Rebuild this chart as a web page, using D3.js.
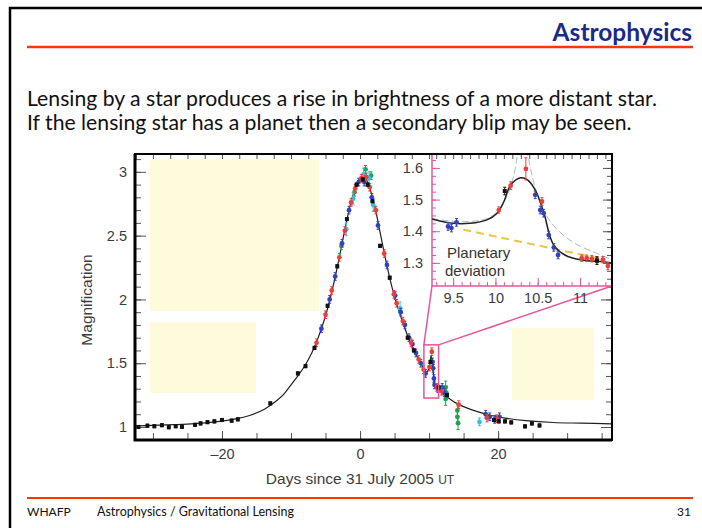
<!DOCTYPE html>
<html>
<head>
<meta charset="utf-8">
<script src="https://cdn.jsdelivr.net/npm/d3@7"></script>
<style>
body { margin: 0; background: #fff; }
svg { display: block; }
</style>
</head>
<body>
<svg id="slide" width="702" height="528"></svg>
<script>
// light curve model (days, magnification)
const modelT = [-32.6,-30,-27,-24,-21,-18,-16,-14,-13,-12,-11,-10,-9,-8,-7,-6,-5,-4,-3,-2,-1,0,0.5,1,2,3,4,5,6,7,8,9,9.6,10.0,10.3,10.6,10.9,11.3,12,13,14,15,17,19,21,24,28,32,36.5];
const modelA = [1.008,1.012,1.018,1.026,1.04,1.063,1.09,1.135,1.17,1.21,1.26,1.33,1.40,1.48,1.58,1.71,1.87,2.08,2.33,2.6,2.82,2.94,2.96,2.93,2.76,2.5,2.24,2.02,1.85,1.7,1.58,1.48,1.43,1.46,1.56,1.43,1.32,1.30,1.26,1.22,1.185,1.16,1.12,1.09,1.07,1.05,1.035,1.03,1.025];

// observations by telescope colour
const blackT = [-32.1,-30.8,-29.8,-28.7,-27.7,-26.7,-25.8,-23.9,-23.1,-22.1,-21.1,-20.0,-18.6,-17.7,-13.0,-9.0,-7.9,-6.6,-4.7,-3.3,-1.9,-0.5,0.4,1.1,1.8,2.9,4.3,6.9,7.8,10.2,11.4,12.6,19.4,20.1,21.0,21.9,23.9,24.9,26.0];
const blackA = [1.00,1.01,1.006,1.014,0.998,1.006,1.001,1.017,1.028,1.038,1.044,1.055,1.05,1.06,1.185,1.42,1.477,1.62,1.95,2.26,2.63,2.90,2.94,2.90,2.77,2.42,2.17,1.70,1.60,1.51,1.31,1.25,1.055,1.044,1.044,1.036,1.005,1.028,1.012];
const redT = [-6.3,-5.0,-4.1,-3.0,-2.2,-1.3,-0.7,0.2,0.9,1.4,2.3,3.5,4.9,5.3,6.2,7.4,8.5,9.2,10.05,10.4,11.1,11.8,14.3,18.4,19.8];
const redA = [1.66,1.88,2.07,2.33,2.54,2.76,2.87,2.95,2.96,2.88,2.70,2.36,2.04,1.97,1.83,1.66,1.53,1.45,1.47,1.59,1.31,1.28,1.175,1.07,1.065];
const blueT = [-5.6,-4.4,-3.6,-2.6,-1.6,-0.2,0.6,1.7,2.6,3.9,5.1,5.9,6.5,7.1,7.6,8.1,8.8,9.5,10.5,10.6,10.7,10.8,11.3,11.9,12.2,18.2,18.8,19.5,20.2];
const blueA = [1.77,2.0,2.18,2.44,2.70,2.92,2.92,2.80,2.58,2.27,2.03,1.90,1.80,1.70,1.65,1.58,1.50,1.42,1.51,1.46,1.38,1.33,1.30,1.31,1.27,1.10,1.08,1.06,1.08];
const cyanT = [-2.0,-1.0,0.5,1.3,1.9,5.8,17.3];
const cyanA = [2.55,2.79,2.98,2.95,2.74,1.93,1.04];
const greenT = [-2.7,-0.8,0.8,1.6,12.4,12.5,12.4,14.1,14.1,14.2];
const greenA = [2.42,2.84,3.02,2.97,1.31,1.27,1.22,1.13,1.08,1.03];

// inset: planetary deviation
const insetT = [9.25,9.5,9.7,9.9,10.02,10.1,10.18,10.3,10.38,10.48,10.58,10.64,10.7,10.82,11.02,11.26,11.378];
const insetA = [1.439,1.425,1.425,1.436,1.457,1.494,1.546,1.569,1.562,1.525,1.451,1.388,1.352,1.325,1.309,1.304,1.30];
const singleT = [9.25,9.6,9.9,10.05,10.15,10.22,10.27,null,10.37,10.43,10.5,10.6,10.75,10.95,11.2,11.378];
const singleA = [1.44,1.43,1.44,1.47,1.52,1.58,1.66,null,1.66,1.58,1.51,1.45,1.40,1.36,1.33,1.31];
const noPlanetT = [9.62,11.3];
const noPlanetA = [1.405,1.31];
const inBlueT = [9.44,9.48,9.54,10.47,10.53,10.57,10.63,10.69,10.74];
const inBlueA = [1.415,1.41,1.428,1.515,1.467,1.457,1.388,1.349,1.325];
const inRedT = [10.04,10.18,10.36,10.55,11.02,11.08,11.14,11.20,11.27,11.33];
const inRedA = [1.467,1.544,1.597,1.494,1.315,1.315,1.313,1.31,1.31,1.29];
const inBlackT = [10.11,11.20];
const inBlackA = [1.527,1.307];

const xLabels = [-20, 0, 20];
const yLabels = [1, 1.5, 2, 2.5, 3];
const ixLabels = [9.5, 10, 10.5, 11];
const iyLabels = [1.3, 1.4, 1.5, 1.6];

const pink = '#e6559e';
const svg = d3.select('#slide');

// slide frame and header
svg.append('path').attr('d', 'M10,528V8H702').attr('fill', 'none').attr('stroke', '#000').attr('stroke-width', 2.5);
svg.append('line').attr('x1', 27).attr('x2', 693).attr('y1', 47).attr('y2', 47).attr('stroke', '#f2380f').attr('stroke-width', 2.5);
svg.append('line').attr('x1', 27).attr('x2', 693).attr('y1', 498).attr('y2', 498).attr('stroke', '#f2380f').attr('stroke-width', 2);
svg.append('text').attr('x', 692).attr('y', 41).attr('text-anchor', 'end')
  .style('font', 'bold 24.5px Lato').attr('fill', '#1b2a86').text('Astrophysics');

const body = ['Lensing by a star produces a rise in brightness of a more distant star.',
  'If the lensing star has a planet then a secondary blip may be seen.'];
const bodyText = svg.selectAll('text.body').data(body).join('text').attr('class', 'body')
  .attr('x', 27).attr('y', (d, i) => 106 + i * 24)
  .style('font', '20.5px Lato').attr('fill', '#111').text(d => d);
const k = 630 / bodyText.nodes()[0].getComputedTextLength();
bodyText.each(function() {
  d3.select(this).attr('textLength', this.getComputedTextLength() * k).attr('lengthAdjust', 'spacingAndGlyphs');
});

svg.append('text').attr('x', 27).attr('y', 516).style('font', '12px Lato').attr('fill', '#111').text('WHAFP');
svg.append('text').attr('x', 97).attr('y', 516).style('font', '12.5px Lato').attr('fill', '#111').text('Astrophysics / Gravitational Lensing');
svg.append('text').attr('x', 691).attr('y', 516).attr('text-anchor', 'end').style('font', '12px Lato').attr('fill', '#111').text('31');

// main plot
const x = d3.scaleLinear().domain([-32.6, 36.5]).range([135, 612]);
const y = d3.scaleLinear().domain([0.898, 3.14]).range([440, 154]);
const ix = d3.scaleLinear().domain([9.25, 11.378]).range([432, 612]);
const iy = d3.scaleLinear().domain([1.227, 1.644]).range([286, 154]);

const plot = svg.append('g').style('font-family', '"Liberation Sans", Arial, sans-serif');

// placeholder boxes (days, magnification)
const boxes = [[-30.43, -5.94, 1.91, 3.10], [-30.43, -15.07, 1.267, 1.824], [22.03, 33.91, 1.21, 1.776]];
plot.selectAll('rect.box').data(boxes).join('rect').attr('class', 'box')
  .attr('x', d => x(d[0])).attr('width', d => x(d[1]) - x(d[0]))
  .attr('y', d => y(d[3])).attr('height', d => y(d[2]) - y(d[3]))
  .attr('fill', '#fdfbdb');

const tickStyle = g => {
  g.select('.domain').remove();
  g.selectAll('line').attr('stroke', '#555');
  g.selectAll('text').attr('fill', '#3c3c3c').style('font-size', '14.5px');
};
const fmt = d3.format('');

// minor ticks
plot.append('g').attr('transform', 'translate(0,440)')
  .call(d3.axisBottom(x).tickValues(d3.range(-30, 36, 5)).tickSizeInner(-7).tickSizeOuter(0).tickFormat(''))
  .call(tickStyle);
plot.append('g').attr('transform', 'translate(0,154)')
  .call(d3.axisTop(x).tickValues(d3.range(-32.5, 36, 2.5)).tickSizeInner(-5).tickSizeOuter(0).tickFormat(''))
  .call(tickStyle);
plot.append('g').attr('transform', 'translate(135,0)')
  .call(d3.axisLeft(y).tickValues(d3.range(0.9, 3.15, 0.1)).tickSizeInner(-6).tickSizeOuter(0).tickFormat(''))
  .call(tickStyle);
plot.append('g').attr('transform', 'translate(612,0)')
  .call(d3.axisRight(y).tickValues(d3.range(0.9, 3.15, 0.1)).tickSizeInner(-6).tickSizeOuter(0).tickFormat(''))
  .call(tickStyle);
// labelled ticks
plot.append('g').attr('transform', 'translate(0,440)')
  .call(d3.axisBottom(x).tickValues(xLabels).tickSizeInner(-9).tickSizeOuter(0).tickPadding(9).tickFormat(d => d < 0 ? '\u2013' + (-d) : d))
  .call(tickStyle);
plot.append('g').attr('transform', 'translate(135,0)')
  .call(d3.axisLeft(y).tickValues(yLabels).tickSizeInner(-11).tickSizeOuter(0).tickPadding(8).tickFormat(fmt))
  .call(tickStyle);
plot.append('g').attr('transform', 'translate(612,0)')
  .call(d3.axisRight(y).tickValues(yLabels).tickSizeInner(-11).tickSizeOuter(0).tickFormat(''))
  .call(tickStyle);

// model curve
const model = d3.zip(modelT, modelA);
plot.append('path').datum(model)
  .attr('d', d3.line().x(d => x(d[0])).y(d => y(d[1])).curve(d3.curveCatmullRom))
  .attr('fill', 'none').attr('stroke', '#222').attr('stroke-width', 1.2);

function drawSeries(g, sx, sy, ts, as, err, color, shape) {
  const pts = d3.zip(ts, as, Array.isArray(err) ? err : ts.map(() => err));
  const s = g.append('g');
  s.selectAll('line.eb').data(pts).join('line')
    .attr('x1', d => sx(d[0])).attr('x2', d => sx(d[0]))
    .attr('y1', d => sy(d[1] - d[2])).attr('y2', d => sy(d[1] + d[2]))
    .attr('stroke', color).attr('stroke-width', 1);
  s.selectAll('path.cap').data(pts).join('path')
    .attr('d', d => `M${sx(d[0]) - 1.5},${sy(d[1] - d[2])}h3M${sx(d[0]) - 1.5},${sy(d[1] + d[2])}h3`)
    .attr('stroke', color).attr('stroke-width', 1);
  if (shape === 'square') {
    s.selectAll('rect').data(pts).join('rect')
      .attr('x', d => sx(d[0]) - 2).attr('y', d => sy(d[1]) - 2).attr('width', 4).attr('height', 4).attr('fill', color);
  } else {
    s.selectAll('circle').data(pts).join('circle')
      .attr('cx', d => sx(d[0])).attr('cy', d => sy(d[1])).attr('r', 2.4).attr('fill', color);
  }
}

drawSeries(plot, x, y, greenT, greenA, [0.03,0.03,0.03,0.03,0.05,0.05,0.05,0.05,0.05,0.05], '#1ea34f', 'circle');
drawSeries(plot, x, y, cyanT, cyanA, [0.05,0.05,0.05,0.05,0.05,0.05,0.03], '#2ec3e6', 'circle');
drawSeries(plot, x, y, blueT, blueA, 0.03, '#3442b5', 'circle');
drawSeries(plot, x, y, redT, redA, 0.03, '#e8403c', 'circle');
drawSeries(plot, x, y, blackT, blackA, 0.012, '#111', 'square');

// zoom box and connectors
const [t0, t1] = ix.domain();
const [a0, a1] = iy.domain();
plot.append('rect').attr('x', x(t0)).attr('y', y(a1)).attr('width', x(t1) - x(t0)).attr('height', y(a0) - y(a1))
  .attr('fill', 'none').attr('stroke', pink).attr('stroke-width', 1.5);
plot.append('line').attr('x1', x(t0)).attr('y1', y(a1)).attr('x2', ix(t0)).attr('y2', iy(a0)).attr('stroke', pink).attr('stroke-width', 1.5);
plot.append('line').attr('x1', x(t1)).attr('y1', y(a1)).attr('x2', ix(t1)).attr('y2', iy(a0)).attr('stroke', pink).attr('stroke-width', 1.5);

// inset
const inset = plot.append('g');
inset.append('rect').attr('x', ix(t0)).attr('y', iy(a1)).attr('width', ix(t1) - ix(t0)).attr('height', iy(a0) - iy(a1)).attr('fill', '#fff');
inset.append('clipPath').attr('id', 'inclip').append('rect')
  .attr('x', ix(t0)).attr('y', iy(a1)).attr('width', ix(t1) - ix(t0)).attr('height', iy(a0) - iy(a1));

const pinkStyle = g => { g.select('.domain').remove(); g.selectAll('line').attr('stroke', pink); g.selectAll('text').attr('fill', '#3c3c3c').style('font-size', '14.5px'); };
inset.append('g').attr('transform', `translate(0,${iy(a0)})`)
  .call(d3.axisBottom(ix).tickValues(d3.range(9.3, 11.35, 0.1)).tickSizeInner(-4).tickSizeOuter(0).tickFormat(''))
  .call(pinkStyle);
inset.append('g').attr('transform', `translate(0,${iy(a0)})`)
  .call(d3.axisBottom(ix).tickValues(ixLabels).tickSizeInner(-8).tickSizeOuter(0).tickPadding(7).tickFormat(fmt))
  .call(pinkStyle);
inset.append('g').attr('transform', `translate(${ix(t0)},0)`)
  .call(d3.axisLeft(iy).tickValues(d3.range(1.25, 1.64, 0.025)).tickSizeInner(-4).tickSizeOuter(0).tickFormat(''))
  .call(pinkStyle);
inset.append('g').attr('transform', `translate(${ix(t0)},0)`)
  .call(d3.axisLeft(iy).tickValues(iyLabels).tickSizeInner(-8).tickSizeOuter(0).tickPadding(9).tickFormat(fmt))
  .call(pinkStyle);
inset.append('g').attr('transform', `translate(0,${iy(a1)})`)
  .call(d3.axisTop(ix).tickValues(d3.range(9.3, 11.35, 0.1)).tickSizeInner(-5).tickSizeOuter(0).tickFormat(''))
  .call(tickStyle);
inset.append('g').attr('transform', `translate(${ix(t1)},0)`)
  .call(d3.axisRight(iy).tickValues(d3.range(1.25, 1.64, 0.025)).tickSizeInner(-5).tickSizeOuter(0).tickFormat(''))
  .call(tickStyle);
inset.append('g').attr('transform', `translate(${ix(t1)},0)`)
  .call(d3.axisRight(iy).tickValues(iyLabels).tickSizeInner(-9).tickSizeOuter(0).tickFormat(''))
  .call(tickStyle);

// pink axis lines
inset.append('path').attr('d', `M${ix(t0)},${iy(a1)}V${iy(a0)}H${ix(t1)}`).attr('fill', 'none').attr('stroke', pink).attr('stroke-width', 1.5);

const clip = inset.append('g').attr('clip-path', 'url(#inclip)');
clip.append('path').datum(d3.zip(noPlanetT, noPlanetA))
  .attr('d', d3.line().x(d => ix(d[0])).y(d => iy(d[1])))
  .attr('fill', 'none').attr('stroke', '#e9c64a').attr('stroke-width', 2).attr('stroke-dasharray', '8,5');
clip.append('path').datum(d3.zip(singleT, singleA))
  .attr('d', d3.line().defined(d => d[0] != null).x(d => ix(d[0])).y(d => iy(d[1])).curve(d3.curveCatmullRom))
  .attr('fill', 'none').attr('stroke', '#b4b8c4').attr('stroke-width', 1).attr('stroke-dasharray', '7,3');
clip.append('path').datum(d3.zip(insetT, insetA))
  .attr('d', d3.line().x(d => ix(d[0])).y(d => iy(d[1])).curve(d3.curveCatmullRom))
  .attr('fill', 'none').attr('stroke', '#222').attr('stroke-width', 1.5);
drawSeries(clip, ix, iy, inBlueT, inBlueA, 0.012, '#3442b5', 'circle');
drawSeries(clip, ix, iy, inRedT, inRedA, [0.01,0.012,0.035,0.012,0.01,0.01,0.01,0.01,0.01,0.012], '#e8403c', 'circle');
drawSeries(clip, ix, iy, inBlackT, inBlackA, 0.012, '#111', 'square');

inset.append('text').attr('x', 447).attr('y', 258).style('font-size', '15px').attr('fill', '#333').text('Planetary');
inset.append('text').attr('x', 445).attr('y', 276).style('font-size', '15px').attr('fill', '#333').text('deviation');

// frame: heavier left and bottom edges
plot.append('rect').attr('x', 135).attr('y', 154).attr('width', 477).attr('height', 286)
  .attr('fill', 'none').attr('stroke', '#000').attr('stroke-width', 2);
plot.append('path').attr('d', 'M135,154V440H612').attr('fill', 'none').attr('stroke', '#000').attr('stroke-width', 3);

// axis titles
plot.append('text').attr('transform', 'translate(92,300) rotate(-90)').attr('text-anchor', 'middle')
  .style('font-size', '15.5px').attr('fill', '#3c3c3c').text('Magnification');
const xt = plot.append('text').attr('x', 360).attr('y', 484).attr('text-anchor', 'middle')
  .style('font-size', '15.5px').attr('fill', '#3c3c3c');
xt.append('tspan').text('Days since 31 July 2005 ');
xt.append('tspan').style('font-size', '12px').text('UT');
</script>
</body>
</html>
